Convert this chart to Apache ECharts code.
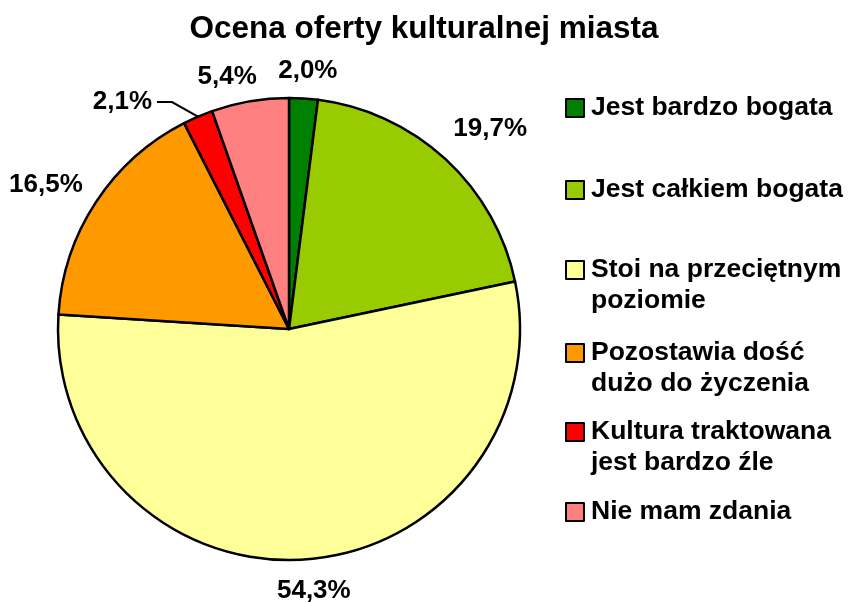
<!DOCTYPE html>
<html>
<head>
<meta charset="utf-8">
<title>Ocena oferty kulturalnej miasta</title>
<script src="https://cdn.jsdelivr.net/npm/echarts@6/dist/echarts.min.js"></script>
<style>
  html, body { margin: 0; padding: 0; background: #fff; }
  #chart { width: 848px; height: 603px; }
</style>
</head>
<body>
<div id="chart"></div>
<script>
// dane z wykresu
const categories = [
  'Jest bardzo bogata',
  'Jest całkiem bogata',
  'Stoi na przeciętnym\npoziomie',
  'Pozostawia dość\ndużo do życzenia',
  'Kultura traktowana\njest bardzo źle',
  'Nie mam zdania'
];
const values = [2.0, 19.7, 54.3, 16.5, 2.1, 5.4];

// wygląd
const colors = ['#008000', '#99cc00', '#ffff99', '#ff9900', '#ff0000', '#ff8080'];
const labelLineLen = [27.5, 41, 31.7, 31.3, 16, 24.7];
const labelLineLen2 = [0, 0, 0, 0, 34.6, 0];
const labelShift = [-32, -25, -36, 18, 0, 16];
const legendCenters = [108, 190, 270, 353, 432, 512];

const font = 'Liberation Sans, Arial, sans-serif';
const lineH = 31;

const pieData = categories.map((name, i) => ({
  name: name,
  value: values[i],
  itemStyle: { color: colors[i] },
  labelLine: {
    show: i === 4,
    length: labelLineLen[i],
    length2: labelLineLen2[i]
  }
}));

// osobna legenda dla każdej pozycji, bo odstępy są nierówne;
// przy dwóch liniach pusta linia na górze, żeby znacznik stał przy pierwszej
const legends = categories.map((name, i) => {
  const lines = name.split('\n').length;
  const multi = lines > 1;
  const blockH = multi ? lineH * (lines + 1) : lineH;
  return {
    data: [name],
    left: 565,
    top: legendCenters[i] - blockH / 2,
    orient: 'vertical',
    padding: 0,
    icon: 'rect',
    itemWidth: 18,
    itemHeight: 18,
    itemGap: 0,
    itemStyle: { borderColor: '#000', borderWidth: 2 },
    selectedMode: false,
    formatter: n => (multi ? '\n' : '') + n,
    textStyle: {
      fontFamily: font,
      fontWeight: 'bold',
      fontSize: 26.5,
      color: '#000',
      lineHeight: lineH,
      padding: [0, 0, 0, 2]
    }
  };
});

const chart = echarts.init(document.getElementById('chart'));
chart.setOption({
  animation: false,
  backgroundColor: '#fff',
  title: {
    text: 'Ocena oferty kulturalnej miasta',
    left: 'center',
    top: 13,
    padding: 0,
    textStyle: { fontFamily: font, fontWeight: 'bold', fontSize: 31.5, color: '#000' }
  },
  legend: legends,
  series: [{
    type: 'pie',
    center: [289, 329],
    radius: 231,
    startAngle: 90,
    clockwise: true,
    avoidLabelOverlap: false,
    emphasis: { disabled: true },
    itemStyle: { borderColor: '#000', borderWidth: 2.5 },
    label: {
      show: true,
      position: 'outside',
      fontFamily: font,
      fontWeight: 'bold',
      fontSize: 26,
      color: '#000',
      distanceToLabelLine: 5,
      formatter: p => p.value.toFixed(1).replace('.', ',') + '%'
    },
    labelLine: {
      lineStyle: { color: '#000', width: 2 }
    },
    labelLayout: p => {
      const pts = p.labelLinePoints;
      if (p.dataIndex === 4 && pts && pts.length === 3) {
        // linia odniesienia: ukośnie od krawędzi, potem krótko poziomo
        return { labelLinePoints: [pts[0], [pts[2][0] + 15, pts[2][1]], pts[2]] };
      }
      return { dx: labelShift[p.dataIndex] };
    },
    data: pieData
  }]
});
</script>
</body>
</html>
